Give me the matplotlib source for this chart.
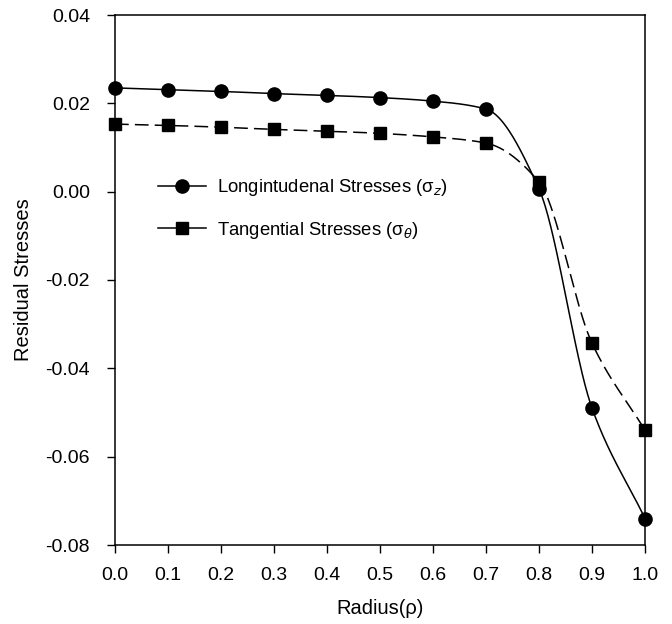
import numpy as np
import matplotlib
matplotlib.use("Agg")
import matplotlib.pyplot as plt
from matplotlib.lines import Line2D

plt.rcParams['font.family'] = ['Liberation Sans', 'DejaVu Sans']

radius = [0.0, 0.1, 0.2, 0.3, 0.4, 0.5, 0.6, 0.7, 0.8, 0.9, 1.0]
longitudinal = [0.0235, 0.0231, 0.0227, 0.0222, 0.0218, 0.0213, 0.0205, 0.0187, 0.0006, -0.0490, -0.0740]
tangential = [0.0153, 0.0150, 0.0146, 0.0141, 0.0137, 0.0132, 0.0124, 0.0110, 0.0022, -0.0343, -0.0540]
xticks = [0.0, 0.1, 0.2, 0.3, 0.4, 0.5, 0.6, 0.7, 0.8, 0.9, 1.0]
yticks = [-0.08, -0.06, -0.04, -0.02, 0.00, 0.02, 0.04]


def pchip(x, y, n=60):
    x = np.asarray(x, float)
    y = np.asarray(y, float)
    h = np.diff(x)
    d = np.diff(y) / h
    m = np.zeros_like(y)
    for k in range(1, len(x) - 1):
        if d[k - 1] * d[k] <= 0:
            m[k] = 0.0
        else:
            w1 = 2 * h[k] + h[k - 1]
            w2 = h[k] + 2 * h[k - 1]
            m[k] = (w1 + w2) / (w1 / d[k - 1] + w2 / d[k])
    m[0] = d[0]
    m[-1] = d[-1]
    xs, ys = [], []
    for k in range(len(x) - 1):
        t = np.linspace(0, 1, n)
        h00 = 2 * t ** 3 - 3 * t ** 2 + 1
        h10 = t ** 3 - 2 * t ** 2 + t
        h01 = -2 * t ** 3 + 3 * t ** 2
        h11 = t ** 3 - t ** 2
        xs.append(x[k] + t * h[k])
        ys.append(h00 * y[k] + h10 * h[k] * m[k] + h01 * y[k + 1] + h11 * h[k] * m[k + 1])
    return np.concatenate(xs), np.concatenate(ys)


fig = plt.figure(figsize=(6.72, 6.24), dpi=100)
ax = fig.add_axes([115 / 672, 1 - 545 / 624, 530 / 672, 530 / 624])

lx, ly = pchip(radius, longitudinal)
tx, ty = pchip(radius, tangential)
ax.plot(lx, ly, color='black', lw=1.1, ls='-')
ax.plot(tx, ty, color='black', lw=1.1, ls=(0, (9, 4)))
ax.plot(radius, longitudinal, ls='none', marker='o', ms=9.5, color='black', clip_on=False, zorder=3)
ax.plot(radius, tangential, ls='none', marker='s', ms=8.5, color='black', clip_on=False, zorder=3)

ax.set_xlim(0.0, 1.0)
ax.set_ylim(-0.08, 0.04)
ax.set_xticks(xticks)
ax.set_xticklabels([f"{v:.1f}" for v in xticks])
ax.set_yticks(yticks)
ax.set_yticklabels([f"{v:.2f}" for v in yticks])
ax.tick_params(direction='out', length=6, width=1, labelsize=14)
ax.tick_params(axis='y', pad=12)
ax.tick_params(axis='x', pad=10)
for s in ax.spines.values():
    s.set_linewidth(1.1)

ax.set_xlabel('Radius(ρ)', fontsize=14.5, labelpad=11)
ax.set_ylabel('Residual Stresses', fontsize=14.5, labelpad=9)

handles = [
    Line2D([], [], color='black', lw=1.1, marker='o', ms=9.5),
    Line2D([], [], color='black', lw=1.1, marker='s', ms=8.5),
]
labels = ['Longintudenal Stresses (σ$_z$)', 'Tangential Stresses (σ$_θ$)']
ax.legend(handles, labels, loc='upper left', bbox_to_anchor=(0.05, 0.725),
          frameon=False, fontsize=13.3, handlelength=2.6, handletextpad=0.6,
          labelspacing=1.15)

fig.savefig('out.png', dpi=100)
